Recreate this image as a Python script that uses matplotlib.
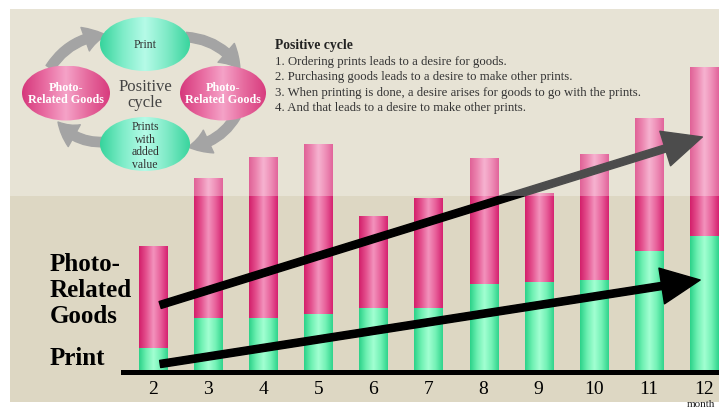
import numpy as np
import matplotlib
matplotlib.use("Agg")
import matplotlib.pyplot as plt
from matplotlib.colors import LinearSegmentedColormap
from matplotlib.patches import Rectangle, Ellipse, FancyArrowPatch

# ---------------- data ----------------
months = [2, 3, 4, 5, 6, 7, 8, 9, 10, 11, 12]
print_vals = [24, 54, 54, 58, 64, 64, 88, 90, 92, 121, 136]
goods_vals = [102, 140, 161, 170, 92, 110, 126, 89, 126, 133, 169]
month_labels = [str(m) for m in months]

cycle_text = ["1. Ordering prints leads to a desire for goods.",
              "2. Purchasing goods leads to a desire to make other prints.",
              "3. When printing is done, a desire arises for goods to go with the prints.",
              "4. And that leads to a desire to make other prints."]

SERIF = ["Liberation Serif", "DejaVu Serif"]
W, H = 719, 410
fig = plt.figure(figsize=(W / 100, H / 100), dpi=100, facecolor="white")

# background axes (pixel coordinates)
bg = fig.add_axes([0, 0, 1, 1], zorder=0)
bg.set_xlim(0, W); bg.set_ylim(H, 0); bg.axis("off")
bg.add_patch(Rectangle((10, 10), W - 10, 393, facecolor="#ddd7c3", edgecolor="none"))

# data axes
left_px, right_px, base_px, top_px = 123, 719, 373, 10
xl = 2 - (153 - left_px) / 55.1
xr = 12 + (right_px - 704) / 55.1
ax = fig.add_axes([left_px / W, 1 - base_px / H, (right_px - left_px) / W, (base_px - top_px) / H], zorder=1)
ax.patch.set_alpha(0)

pink_cmap = LinearSegmentedColormap.from_list("pk", ["#d31e6a", "#e4528f", "#f393bd", "#e8609a", "#d52170"])
green_cmap = LinearSegmentedColormap.from_list("gr", ["#2ad289", "#6ef0b2", "#a2ffd2", "#74f2b6", "#2fd48c"])
grad = np.linspace(0, 1, 128).reshape(1, -1)

def shade(container, cmap):
    for p in container.patches:
        x0, y0, w, h = p.get_x(), p.get_y(), p.get_width(), p.get_height()
        im = ax.imshow(grad, cmap=cmap, extent=[x0, x0 + w, y0, y0 + h],
                       aspect="auto", zorder=2, interpolation="bilinear")
        im.set_clip_path(p)

b1 = ax.bar(months, print_vals, width=0.51, facecolor="none", edgecolor="none")
b2 = ax.bar(months, goods_vals, width=0.51, bottom=print_vals, facecolor="none", edgecolor="none")
shade(b1, green_cmap)
shade(b2, pink_cmap)

# trend arrows
for (x0, y0), (x1, y1) in [((2.13, 67), (11.97, 235)), ((2.13, 8), (11.93, 92))]:
    ax.add_patch(FancyArrowPatch((x0, y0), (x1, y1),
                 arrowstyle="simple,head_length=2.8,head_width=2.6,tail_width=0.52",
                 mutation_scale=10, color="black", zorder=4, shrinkA=0, shrinkB=0))

ax.set_xlim(xl, xr)
ax.set_ylim(0, base_px - top_px)
for s in ["left", "right", "top"]:
    ax.spines[s].set_visible(False)
ax.spines["bottom"].set_linewidth(3.6)
ax.spines["bottom"].set_zorder(6)
ax.set_yticks([])
ax.set_xticks(months)
ax.set_xticklabels(month_labels, fontfamily=SERIF, fontsize=14)
ax.tick_params(axis="x", length=0, pad=6)

# overlay / annotation axes
ov = fig.add_axes([0, 0, 1, 1], zorder=2)
ov.set_xlim(0, W); ov.set_ylim(H, 0); ov.axis("off")
ov.patch.set_alpha(0)
ov.set_autoscale_on(False)
ov.add_patch(Rectangle((10, 10), W - 10, 187, facecolor="white", alpha=0.3, edgecolor="none", zorder=1))

ell_green = LinearSegmentedColormap.from_list("eg", ["#36d49c", "#7eecc8", "#b6fbe8", "#7eeac6", "#3ad59e"])
ell_pink = LinearSegmentedColormap.from_list("ep", ["#d6387c", "#e86aa0", "#f5a3c8", "#e66a9e", "#d83c7e"])

def ellipse(cx, cy, w, h, cmap):
    e = Ellipse((cx, cy), w, h, facecolor="none", edgecolor="none", zorder=3)
    ov.add_patch(e)
    im = ov.imshow(grad, cmap=cmap, extent=[cx - w / 2, cx + w / 2, cy + h / 2, cy - h / 2],
                   aspect="auto", zorder=3, interpolation="bilinear")
    im.set_clip_path(e)

ellipse(145, 45, 90, 54, ell_green)
ellipse(145, 145, 90, 54, ell_green)
ellipse(66, 94, 88, 55, ell_pink)
ellipse(223, 94, 86, 55, ell_pink)

for (p0, p1) in [((50, 69), (106, 36)), ((186, 38), (240, 70)),
                 ((236, 117), (188, 148)), ((104, 143), (58, 123))]:
    ov.add_patch(FancyArrowPatch(p0, p1, connectionstyle="arc3,rad=-0.25",
                 arrowstyle="simple,head_length=1.7,head_width=2.0,tail_width=0.75",
                 mutation_scale=9, color="#a4a4a4", zorder=2, shrinkA=0, shrinkB=0))

ov.text(145, 45, "Print", ha="center", va="center", fontsize=8.5, fontfamily=SERIF, color="#333333", zorder=5)
ov.text(145, 146, "Prints\nwith\nadded\nvalue", ha="center", va="center", fontsize=8.5,
        fontfamily=SERIF, color="#333333", linespacing=1.05, zorder=5)
for cx in (66, 223):
    ov.text(cx, 94, "Photo-\nRelated Goods", ha="center", va="center", fontsize=8.7, fontweight="bold",
            fontfamily=SERIF, color="white", linespacing=1.0, zorder=5)
ov.text(145, 95, "Positive\ncycle", ha="center", va="center", fontsize=12, fontfamily=SERIF,
        color="#444444", linespacing=1.05, zorder=5)

ov.text(275, 46, "Positive cycle", ha="left", va="center", fontsize=9.8, fontweight="bold",
        fontfamily=SERIF, color="#222222", zorder=5)
for i, line in enumerate(cycle_text):
    ov.text(275, 62 + i * 15.4, line, ha="left", va="center", fontsize=9.2,
            fontfamily=SERIF, color="#333333", zorder=5)

for yy, t in [(265, "Photo-"), (291, "Related"), (317, "Goods"), (359, "Print")]:
    ov.text(50, yy, t, ha="left", va="center", fontsize=18, fontweight="bold",
            fontfamily=SERIF, color="black", zorder=5)

ov.text(687, 409.5, "month", ha="left", va="bottom", fontsize=8, fontfamily=SERIF, color="#222222", zorder=5)

fig.savefig("out.png", dpi=100, facecolor="white")
